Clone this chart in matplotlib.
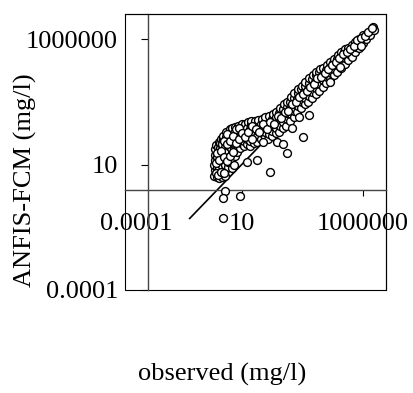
import matplotlib
matplotlib.use("Agg")
import matplotlib.pyplot as plt
import numpy as np

plt.rcParams['font.family'] = ['Liberation Serif', 'DejaVu Serif']

# log10 of observed / ANFIS-FCM values
observed_log = [
    -0.13, -0.11, -0.14, -0.12, -0.10, -0.09, -0.05,
    -0.02, 0.00, -0.03, 0.01, -0.01, 0.02, 0.03, 0.06,
    0.08, 0.10, 0.07, 0.09, 0.11, 0.08, 0.10, 0.12, 0.14,
    0.20, 0.22, 0.19, 0.21, 0.18, 0.22, 0.20, 0.23, 0.24,
    0.32, 0.30, 0.33, 0.31, 0.34, 0.30, 0.33, 0.35, 0.36,
    0.45, 0.43, 0.46, 0.44, 0.47, 0.45, 0.48, 0.50,
    0.58, 0.56, 0.60, 0.57, 0.59, 0.61, 0.58, 0.62,
    0.70, 0.72, 0.69, 0.71, 0.73, 0.70, 0.74,
    0.82, 0.84, 0.81, 0.83, 0.86, 0.85,
    0.95, 0.97, 0.94, 0.96, 0.98, 1.00,
    1.08, 1.10, 1.07, 1.09, 1.12,
    1.20, 1.22, 1.19, 1.21, 1.24,
    1.35, 1.33, 1.36, 1.34, 1.37, 1.38,
    1.50, 1.52, 1.49, 1.51, 1.53,
    1.65, 1.63, 1.66, 1.64, 1.67,
    1.80, 1.82, 1.79, 1.81, 1.83,
    1.95, 1.97, 1.94, 1.96, 1.98,
    2.10, 2.12, 2.09, 2.11, 2.13,
    2.25, 2.27, 2.24, 2.26, 2.28,
    2.40, 2.42, 2.39, 2.41, 2.43,
    2.55, 2.57, 2.54, 2.56, 2.58,
    2.70, 2.72, 2.69, 2.71, 2.73,
    2.85, 2.87, 2.84, 2.86, 2.88,
    3.00, 3.02, 2.99, 3.01, 3.03,
    3.15, 3.17, 3.14, 3.16, 3.18,
    3.30, 3.32, 3.29, 3.31, 3.33,
    3.45, 3.47, 3.44, 3.46, 3.48,
    3.60, 3.62, 3.59, 3.61, 3.63,
    3.75, 3.77, 3.74, 3.76, 3.78,
    3.90, 3.92, 3.89, 3.91, 3.93,
    4.05, 4.07, 4.04, 4.06, 4.08,
    4.20, 4.22, 4.19, 4.21, 4.23,
    4.35, 4.37, 4.34, 4.36,
    4.50, 4.52, 4.49, 4.51,
    4.65, 4.67, 4.64, 4.66,
    4.80, 4.82, 4.79, 4.81,
    4.95, 4.97, 4.94, 4.96,
    5.10, 5.12, 5.09, 5.11,
    5.25, 5.27, 5.24, 5.26,
    5.40, 5.42, 5.39,
    5.55, 5.57, 5.54,
    5.70, 5.72, 5.69,
    5.85, 5.87, 5.84,
    6.00, 6.02, 5.99,
    6.15, 6.17,
    6.30, 6.32,
    6.43, 6.46,
    # filling between the rows of the band
    -0.06, -0.07, -0.04, 0.04, 0.05, 0.15, 0.15, 0.26, 0.27, 0.27,
    0.39, 0.40, 0.40, 0.52, 0.53, 0.65, 0.66, 0.77, 0.78, 0.90,
    0.90, 1.03, 1.15, 1.28, 1.43, 1.43, 1.58, 1.73, 1.88, 2.03,
    2.18, 2.33, 2.48, 2.63, 2.78, 2.93, 3.08, 3.23, 3.38, 3.53,
    3.68, 3.83, 3.98, 4.13, 4.28, 4.43, 4.58, 4.73, 4.88, 5.03,
    5.18, 5.33, 5.48, 5.63, 5.78, 5.93, 6.08, 6.23, 6.38,
    # scattered points under the band
    0.31, 0.23, 0.93, 0.23, 2.17, 2.87, 3.53, 3.78,
    1.22, 1.63, 1.88, 2.46, 2.71, 3.08, 3.37, 4.65, 5.06, 5.93,
]
predicted_log = [
    0.55, 0.80, 1.00, 1.20, 1.40, 1.60, 1.78,
    0.50, 0.70, 0.90, 1.10, 1.30, 1.50, 1.70, 1.90,
    0.45, 0.62, 0.85, 1.05, 1.25, 1.45, 1.65, 1.85, 2.02,
    0.50, 0.75, 0.95, 1.15, 1.35, 1.60, 1.80, 2.00, 2.15,
    0.55, 0.80, 1.00, 1.22, 1.42, 1.70, 1.90, 2.10, 2.30,
    0.90, 1.10, 1.30, 1.55, 1.75, 2.00, 2.20, 2.40,
    0.85, 1.20, 1.45, 1.65, 1.85, 2.10, 2.30, 2.45,
    1.00, 1.35, 1.60, 1.80, 2.00, 2.25, 2.50,
    1.50, 1.70, 1.95, 2.15, 2.35, 2.55,
    1.65, 1.85, 2.05, 2.30, 2.50, 2.62,
    1.75, 1.95, 2.15, 2.40, 2.60,
    1.80, 2.00, 2.25, 2.45, 2.68,
    1.75, 1.95, 2.20, 2.40, 2.60, 2.72,
    1.85, 2.10, 2.30, 2.50, 2.75,
    1.90, 2.15, 2.35, 2.55, 2.78,
    2.00, 2.25, 2.45, 2.62, 2.82,
    2.10, 2.30, 2.50, 2.70, 2.88,
    2.00, 2.20, 2.45, 2.65, 2.95,
    2.15, 2.35, 2.55, 2.80, 3.00,
    2.25, 2.45, 2.70, 2.90, 3.10,
    2.30, 2.55, 2.80, 3.05, 3.25,
    2.45, 2.70, 2.95, 3.20, 3.40,
    2.55, 2.80, 3.05, 3.30, 3.50,
    2.75, 3.00, 3.25, 3.50, 3.70,
    2.90, 3.15, 3.40, 3.65, 3.85,
    3.10, 3.35, 3.60, 3.85, 4.00,
    3.25, 3.50, 3.75, 4.00, 4.15,
    3.40, 3.65, 3.90, 4.15, 4.30,
    3.50, 3.75, 4.00, 4.25, 4.45,
    3.65, 3.90, 4.15, 4.40, 4.55,
    3.80, 4.05, 4.30, 4.55, 4.68,
    3.95, 4.20, 4.45, 4.70, 4.80,
    4.10, 4.35, 4.60, 4.85,
    4.25, 4.50, 4.75, 4.95,
    4.40, 4.65, 4.90, 5.10,
    4.55, 4.80, 5.05, 5.20,
    4.70, 4.95, 5.20, 5.35,
    4.85, 5.10, 5.35, 5.50,
    5.00, 5.25, 5.50, 5.60,
    5.15, 5.40, 5.65,
    5.30, 5.55, 5.78,
    5.50, 5.70, 5.90,
    5.65, 5.85, 6.00,
    5.85, 6.05, 6.15,
    6.00, 6.20,
    6.15, 6.35,
    6.50, 6.38,
    0.65, 1.05, 1.45, 0.60, 1.20, 0.72, 1.55, 0.65, 1.30, 1.95,
    1.15, 1.80, 2.20, 1.35, 1.95, 1.50, 2.15, 1.85, 2.40, 2.00,
    2.45, 2.25, 2.10, 2.30, 2.00, 2.55, 2.40, 2.30, 2.60, 2.40,
    2.70, 2.60, 2.95, 2.85, 3.10, 3.15, 3.40, 3.50, 3.70, 3.80,
    3.95, 4.10, 4.20, 4.45, 4.50, 4.65, 4.80, 4.95, 5.10, 5.25,
    5.40, 5.50, 5.60, 5.72, 5.95, 6.05, 6.12, 6.30, 6.45,
    -0.07, -0.35, -0.27, -1.14, 0.72, 1.48, 2.11, 2.98,
    1.12, 1.20, 1.91, 1.91, 1.83, 2.47, 2.90, 4.29, 4.89, 5.72,
]
line_log = [-1.15, 6.4]

x_ticks = [10 ** -3.37, 10, 1e6]
x_tick_labels = ['0.0001', '10', '1000000']
y_ticks = [1e-4, 10, 1e6]
y_tick_labels = ['0.0001', '10', '1000000']

obs = 10 ** np.array(observed_log)
pred = 10 ** np.array(predicted_log)
line = 10 ** np.array(line_log)

fig = plt.figure(figsize=(4.14, 3.93), dpi=100)
ax = fig.add_axes([125 / 414, 103 / 393, 261 / 414, 276 / 393])
ax.set_xscale('log')
ax.set_yscale('log')

ax.plot(line, line, color='black', lw=1.2, zorder=1)
ax.scatter(obs, pred, s=32, facecolor='white', edgecolor='black', linewidth=1.0, zorder=3)

ax.set_xlim(10 ** -3.82, 10 ** 6.96)
ax.set_ylim(1e-4, 1e7)
ax.minorticks_off()

# axes cross inside the box, box drawn by the patch edge
ax.spines['left'].set_position(('data', 10 ** -2.87))
ax.spines['bottom'].set_position(('data', 1))
for s in ['left', 'bottom']:
    ax.spines[s].set_color('#444444')
    ax.spines[s].set_linewidth(1.0)
for s in ['top', 'right']:
    ax.spines[s].set_linewidth(0.8)
ax.patch.set_edgecolor('black')
ax.patch.set_linewidth(0.8)

ax.set_xticks(x_ticks)
ax.set_xticklabels(x_tick_labels)
ax.set_yticks(y_ticks)
ax.set_yticklabels(y_tick_labels)
ax.xaxis.get_major_ticks()[0].tick1line.set_visible(False)
ax.tick_params(axis='x', length=4.5, width=0.8, pad=12, labelsize=19)
ax.tick_params(axis='y', length=5, width=0.8, pad=16.5, labelsize=19)

fig.text(25 / 414, 1 - 180 / 393, 'ANFIS-FCM (mg/l)', rotation=90, ha='center', va='center', fontsize=19)
fig.text(222 / 414, 1 - 374 / 393, 'observed (mg/l)', ha='center', va='center', fontsize=19)

fig.savefig('out.png', dpi=100)
